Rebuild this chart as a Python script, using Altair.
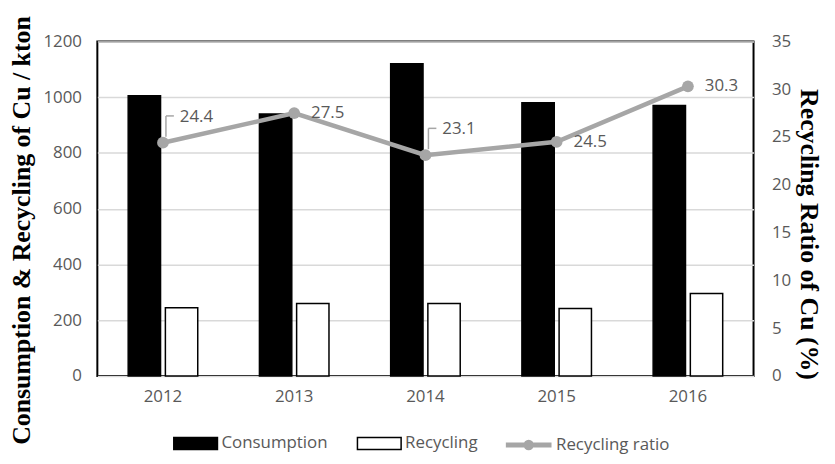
import altair as alt
import pandas as pd

# ---- data ----
years = ["2012", "2013", "2014", "2015", "2016"]
consumption = [1005, 940, 1120, 980, 970]
recycling = [245, 260, 260, 242, 296]
ratio = [24.4, 27.5, 23.1, 24.5, 30.3]
series = ["Consumption", "Recycling"]
ratio_name = "Recycling ratio"
left_ticks = [0, 200, 400, 600, 800, 1000, 1200]
right_ticks = [0, 5, 10, 15, 20, 25, 30, 35]
callout_years = ["2012", "2014"]  # labels drawn with a leader line above the point

bars_df = pd.DataFrame({
    "year": years * 2,
    "series": [series[0]] * len(years) + [series[1]] * len(years),
    "value": consumption + recycling,
})
line_df = pd.DataFrame({
    "year": years,
    "ratio": ratio,
    "label": [f"{r:.1f}" for r in ratio],
    "name": [ratio_name] * len(years),
})

FONT = "Open Sans"
SERIF = "Liberation Serif"
GRAY = "#595959"
LINE = "#a6a6a6"
TICK_SIZE = 17
TITLE_SIZE = 26

in_callout = "indexof([" + ",".join(f"'{y}'" for y in callout_years) + "], datum.year) >= 0"

x_enc = alt.X(
    "year:N", title=None,
    scale=alt.Scale(paddingInner=0.47, paddingOuter=0.235),
    axis=alt.Axis(labelAngle=0, ticks=False, domain=False, labelPadding=13,
                  labelFont=FONT, labelFontSize=TICK_SIZE, labelColor=GRAY),
)

bars = alt.Chart(bars_df).mark_bar(stroke="black", strokeWidth=1.5).encode(
    x=x_enc,
    xOffset=alt.XOffset("series:N", scale=alt.Scale(domain=series, paddingInner=0.13, paddingOuter=0)),
    y=alt.Y(
        "value:Q",
        scale=alt.Scale(domain=[0, 1200]),
        axis=alt.Axis(
            values=left_ticks, format="d", title="Consumption & Recycling of Cu / kton",
            grid=True, gridColor="#d9d9d9", gridWidth=1.5, ticks=False, domain=False,
            labelFont=FONT, labelFontSize=TICK_SIZE, labelColor=GRAY, labelPadding=16,
            titleFont=SERIF, titleFontSize=TITLE_SIZE, titleFontWeight="bold", titleColor="black",
            titlePadding=8, titleY=190,
        ),
    ),
    fill=alt.Fill(
        "series:N",
        scale=alt.Scale(domain=series, range=["black", "white"]),
        legend=alt.Legend(
            title=None, orient="none", legendX=76, legendY=382, direction="horizontal",
            symbolType="M-1,-0.27H1V0.27H-1Z", symbolSize=1936,
            symbolStrokeColor="black", symbolStrokeWidth=1.5,
            labelFont=FONT, labelFontSize=TICK_SIZE, labelColor=GRAY,
            columnPadding=26, labelOffset=3,
        ),
    ),
)

y_ratio_axis = alt.Axis(
    orient="right", values=right_ticks, title="Recycling Ratio of Cu (%)",
    grid=False, ticks=False, domain=False,
    labelFont=FONT, labelFontSize=TICK_SIZE, labelColor=GRAY, labelPadding=18,
    titleFont=SERIF, titleFontSize=TITLE_SIZE, titleFontWeight="bold", titleColor="black",
    titlePadding=5, titleY=194, titleAngle=90,
)

line = alt.Chart(line_df).mark_line(
    strokeWidth=4.5, point=alt.OverlayMarkDef(size=140, filled=True, opacity=1)
).encode(
    x=alt.X("year:N"),
    y=alt.Y("ratio:Q", scale=alt.Scale(domain=[0, 35]), axis=y_ratio_axis),
    color=alt.Color(
        "name:N",
        scale=alt.Scale(domain=[ratio_name], range=[LINE]),
        legend=alt.Legend(
            title=None, orient="none", legendX=409, legendY=381,
            symbolType="M-1,0H1M-0.12,0A0.12,0.12,0,1,0,0.12,0A0.12,0.12,0,1,0,-0.12,0",
            symbolSize=2116, symbolStrokeWidth=5, symbolStrokeColor=LINE,
            labelFont=FONT, labelFontSize=TICK_SIZE, labelColor=GRAY, labelOffset=2,
        ),
    ),
)

labels_plain = alt.Chart(line_df).transform_filter("!(" + in_callout + ")").mark_text(
    align="left", baseline="middle", dx=17, dy=0, font=FONT, fontSize=TICK_SIZE, color=GRAY
).encode(x="year:N", y="ratio:Q", text="label:N")

labels_callout = alt.Chart(line_df).transform_filter(in_callout).mark_text(
    align="left", baseline="middle", dx=17, dy=-26, font=FONT, fontSize=TICK_SIZE, color=GRAY
).encode(x="year:N", y="ratio:Q", text="label:N")

leader_v = alt.Chart(line_df).transform_filter(in_callout).mark_rule(
    color=LINE, strokeWidth=1.5, xOffset=3, yOffset=-6, y2Offset=-27
).encode(x="year:N", y="ratio:Q", y2="ratio:Q")

leader_h = alt.Chart(line_df).transform_filter(in_callout).mark_rule(
    color=LINE, strokeWidth=1.5, xOffset=3, x2Offset=11, yOffset=-27
).encode(x="year:N", x2="year:N", y="ratio:Q")

ratio_layer = alt.layer(line, leader_v, leader_h, labels_plain, labels_callout)

chart = alt.layer(bars, ratio_layer).resolve_scale(
    y="independent", fill="independent", color="independent"
).properties(
    width=661, height=337,
    padding={"left": 90, "top": 32, "right": 74, "bottom": 80},
    autosize="none",
).configure_view(stroke="black", strokeWidth=2)

chart.save("out.html", embed_options={"renderer": "svg", "actions": False})
